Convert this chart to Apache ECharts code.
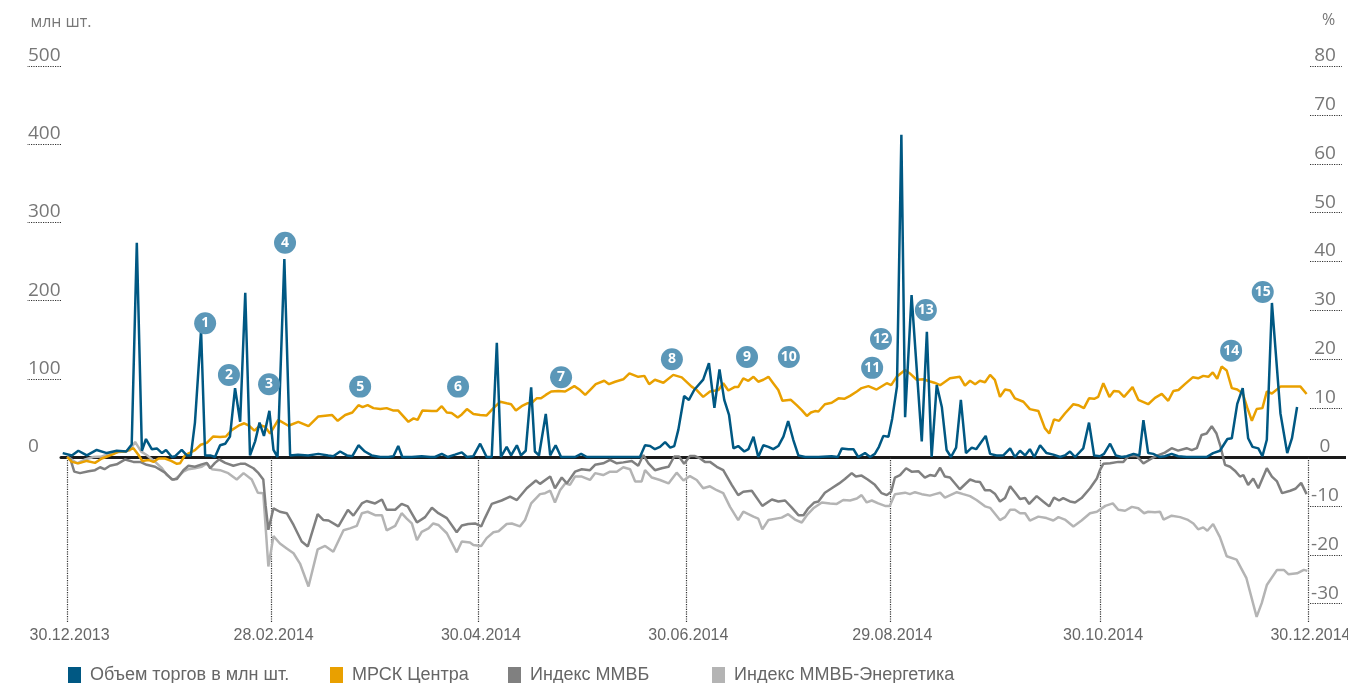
<!DOCTYPE html>
<html>
    <head>
        <meta charset="utf-8" />
        <script src="https://cdn.jsdelivr.net/npm/echarts@6.0.0/dist/echarts.min.js"></script>
        <style>
            html, body { margin: 0; padding: 0; background: #fff; overflow: hidden; }
        </style>
    </head>
    <body>
        <div id="main" style="width: 1348px; height: 683px"></div>
        <script type="text/javascript">
            // x = calendar days since 30.12.2013
            const xTicks = [0, 60, 121, 182, 242, 304, 365];
            const xTickLabels = ["30.12.2013", "28.02.2014", "30.04.2014", "30.06.2014", "29.08.2014", "30.10.2014", "30.12.2014"];
            const leftLabels = [0, 100, 200, 300, 400, 500];
            const rightLabels = [-30, -20, -10, 0, 10, 20, 30, 40, 50, 60, 70, 80];

            // trading volume, mln shares (left axis)
            const volume = [
                [-1.3, 5], [1.4, 2], [3.3, 8], [5.8, 2], [8.7, 9], [11.7, 5], [14.6, 8], [17.4, 7], [19.0, 16], [20.5, 274],
                [22.0, 8], [23.2, 23], [24.9, 10], [26.4, 11], [27.9, 5], [29.1, 9], [30.8, 0], [31.8, 1], [33.7, 9], [35.2, 2],
                [36.4, 2], [37.6, 44], [39.4, 162], [40.6, 2], [42.1, 2], [43.5, 0], [45.0, 15], [46.5, 17], [47.9, 26], [49.4, 88],
                [50.9, 45], [52.4, 210], [53.8, 2], [55.3, 20], [56.6, 44], [57.9, 27], [59.5, 59], [60.7, 9], [61.9, 0], [63.9, 253],
                [65.6, 2], [67.9, 3], [70.9, 2], [73.9, 4], [76.8, 2], [78.3, 1], [80.3, 7], [82.3, 2], [83.9, 1], [85.7, 15],
                [87.6, 7], [89.6, 2], [92.1, 0], [94.5, 0], [96.0, 1], [97.4, 14], [98.6, 0], [101.4, 0], [104.3, 1], [106.8, 0],
                [108.2, 0], [110.2, 4], [112.0, 0], [114.1, 3], [116.1, 6], [117.6, 0], [119.5, 1], [121.5, 17], [123.4, 0], [124.9, 0],
                [126.4, 146], [127.6, 0], [129.3, 13], [130.6, 2], [132.3, 15], [133.5, 2], [134.9, 8], [136.5, 89], [137.6, 7], [138.8, 2],
                [140.8, 55], [142.1, 2], [143.7, 15], [145.3, 0], [149.4, 0], [151.2, 4], [152.9, 0], [156.8, 0], [162.6, 0], [168.5, 0],
                [170.0, 15], [171.5, 14], [172.9, 10], [174.4, 13], [175.9, 19], [177.4, 12], [178.6, 14], [179.8, 35], [181.5, 78], [182.9, 73],
                [184.5, 86], [187.1, 99], [188.8, 120], [190.4, 63], [191.9, 112], [193.3, 73], [194.7, 54], [196.0, 11], [197.4, 14], [199.2, 7],
                [200.4, 10], [201.9, 26], [203.3, 0], [204.8, 15], [206.3, 13], [207.7, 10], [209.2, 14], [210.7, 26], [212.1, 46], [213.6, 22],
                [215.1, 2], [217.1, 0], [221.0, 0], [224.9, 1], [226.7, 0], [227.9, 11], [229.8, 10], [231.3, 10], [232.7, 0], [234.7, 5],
                [236.2, 0], [237.6, 4], [238.8, 13], [240.1, 27], [241.6, 26], [242.7, 49], [244.1, 90], [245.4, 412], [246.5, 51], [248.4, 207],
                [251.4, 20], [252.9, 160], [254.3, 0], [255.8, 92], [257.3, 64], [258.7, 9], [260.0, 0], [261.5, 12], [262.9, 73], [264.4, 5],
                [266.1, 12], [267.4, 10], [268.7, 18], [270.2, 27], [271.5, 4], [273.4, 2], [275.4, 2], [277.4, 11], [278.8, 0], [280.3, 8],
                [281.8, 2], [283.2, 10], [284.5, 0], [286.2, 15], [288.1, 5], [290.1, 3], [292.1, 0], [293.5, 2], [295.0, 7], [296.5, 0],
                [298.9, 11], [300.6, 44], [302.1, 2], [303.8, 1], [305.0, 4], [306.8, 17], [308.5, 2], [310.2, 0], [311.7, 1], [313.7, 4],
                [315.4, 2], [316.6, 47], [318.0, 5], [319.5, 4], [321.3, 0], [322.9, 1], [324.9, 4], [326.8, 1], [329.3, 0], [332.3, 0],
                [335.2, 0], [337.1, 5], [339.1, 8], [341.3, 23], [342.6, 24], [344.2, 68], [345.8, 88], [347.4, 24], [348.7, 13], [350.4, 11],
                [351.6, 1], [352.9, 22], [354.4, 197], [356.9, 56], [358.9, 5], [360.3, 24], [361.8, 64]
            ];

            // МРСК Центра, % change (right axis)
            const mrsk = [
                [0, 0], [1.4, -1], [3.3, -1.3], [5.8, -0.8], [8.2, -1.2], [10.2, -0.3], [12.1, 0.2], [13.6, 0.6], [15.1, 1.1], [17.1, 1.1],
                [19.5, 1.8], [21.0, 0.4], [22.1, -0.8], [23.9, -0.6], [25.4, -1], [26.9, -0.3], [28.8, -0.3], [30.6, -0.8], [32.3, -1.4], [33.2, -1.3],
                [34.7, 0.4], [36.2, 0.9], [37.6, 1.4], [39.3, 2.5], [41.1, 2.9], [43.0, 4.2], [45.0, 4.1], [46.7, 4.2], [48.4, 5.5], [50.4, 6.4],
                [52.1, 6.9], [53.5, 6.4], [55.1, 5.4], [56.8, 6.5], [58.2, 6.2], [59.7, 4.8], [62.1, 7.6], [65.1, 6.4], [68.0, 7.2], [71.0, 6.3],
                [73.9, 8.3], [77.9, 8.6], [79.6, 7.4], [81.8, 8.6], [83.9, 9.1], [85.7, 10.6], [86.9, 10.2], [88.4, 10.6], [90.1, 10], [92.1, 9.8],
                [94.0, 10], [96.0, 9.5], [97.4, 9.5], [100.4, 7.2], [101.9, 7.9], [103.1, 7.6], [104.5, 9.5], [107.3, 9.4], [108.7, 9.4], [110.2, 10.4],
                [111.7, 9.1], [113.1, 9], [114.9, 8.1], [116.1, 8.7], [117.6, 9.8], [119.5, 8.8], [121.5, 8.6], [123.4, 8.5], [125.4, 10], [127.4, 11.3],
                [129.3, 11], [130.6, 10.8], [132.0, 9.5], [133.7, 10.4], [135.5, 11], [136.7, 11.1], [138.1, 12], [139.4, 12], [140.8, 12.7], [142.4, 13.4],
                [144.5, 13.5], [146.5, 13.4], [149.2, 14.5], [150.9, 13.7], [152.4, 12.7], [153.8, 13.7], [155.5, 14.9], [158.0, 15.6], [159.4, 14.9], [161.2, 15.4],
                [163.6, 15.9], [165.4, 17.1], [168.0, 16.4], [169.8, 16.6], [171.2, 14.9], [172.9, 15.8], [175.4, 15.2], [178.3, 16.8], [180.8, 16.3], [183.7, 14.4],
                [185.2, 13.7], [187.1, 12.3], [189.1, 13.4], [191.6, 13.7], [193.0, 15.1], [194.5, 13.6], [196.3, 14.3], [197.4, 14.3], [198.9, 16.1], [200.4, 15.6],
                [201.9, 16.4], [203.3, 15.4], [204.8, 15.8], [206.3, 16.4], [207.7, 15.1], [209.2, 13.7], [210.4, 11.5], [212.9, 11.7], [214.6, 10.6], [216.1, 9.6],
                [217.6, 8.4], [218.8, 9.1], [220.0, 9.4], [221.0, 9.3], [222.9, 10.8], [224.9, 11.1], [226.9, 12], [228.6, 11.9], [230.3, 12.5], [232.3, 13.4],
                [233.7, 14.1], [235.7, 14.5], [238.1, 13.8], [241.1, 15.1], [242.4, 14.7], [244.0, 16.4], [246.5, 17.8], [247.9, 17.1], [249.9, 15.8], [251.9, 15.9],
                [253.6, 15.5], [255.1, 15.2], [256.8, 14.7], [259.7, 16.1], [262.6, 16.4], [264.1, 14.6], [265.6, 15.6], [267.1, 14.9], [268.5, 15.6], [270.0, 15.3],
                [271.5, 16.8], [272.9, 15.8], [274.4, 12.3], [275.9, 13.8], [277.4, 13.6], [278.8, 12], [281.3, 11.3], [283.2, 9.8], [285.7, 9.4], [287.6, 5.9],
                [288.9, 4.8], [290.3, 7.7], [291.8, 7.4], [293.5, 8.9], [296.0, 10.8], [297.4, 10.6], [299.1, 10], [300.6, 12], [302.1, 11.9], [303.3, 12.3],
                [304.8, 15.1], [306.6, 12.3], [307.9, 13.5], [309.4, 13.4], [310.9, 12.3], [313.4, 14.3], [315.1, 11.7], [318.0, 10.8], [320.0, 12.1], [322.0, 12.9],
                [323.9, 11.5], [325.4, 13.5], [326.9, 13.7], [328.8, 14.9], [331.1, 16.3], [332.7, 16.1], [334.2, 16.6], [335.7, 16.4], [337.0, 17.3], [338.3, 16],
                [339.6, 18.5], [341.1, 17.7], [342.6, 14.1], [344.2, 13.8], [345.8, 13], [347.2, 10], [348.5, 7.4], [349.9, 9.8], [351.6, 10], [352.9, 13.4],
                [354.4, 13], [356.9, 14.4], [359.8, 14.4], [362.8, 14.4], [364.6, 12.9]
            ];

            // Индекс ММВБ, % change (right axis)
            const micex = [
                [0, 0], [0.9, -0.3], [2.1, -3], [3.8, -3.3], [6.3, -2.9], [8.2, -2.7], [9.7, -2.1], [11.0, -2.5], [12.6, -1.8], [14.6, -1.5],
                [17.1, -0.5], [19.5, -1], [21.5, -1], [23.4, -1.6], [25.9, -2], [28.8, -3.2], [30.8, -4.6], [32.3, -4.5], [34.2, -2.7], [35.7, -1.8],
                [37.6, -2], [39.6, -1.5], [41.1, -1.2], [42.1, -2.3], [43.5, -1.2], [44.7, -0.5], [46.5, -1.2], [48.9, -1.8], [50.9, -1.4], [52.4, -1.4],
                [54.8, -2.3], [56.3, -3.3], [57.7, -4.6], [58.4, -10], [59.2, -14.9], [60.7, -10.5], [62.6, -11.2], [64.6, -11.5], [66.6, -13.9], [69.0, -17.3],
                [70.8, -18.3], [73.7, -11.7], [75.4, -12.9], [76.9, -13], [79.8, -14.2], [82.6, -10.8], [84.2, -12], [86.7, -9.5], [88.1, -9], [90.6, -9.5],
                [92.6, -8.7], [94.0, -10.8], [96.5, -10.8], [98.4, -9.6], [100.2, -10.1], [102.9, -13.4], [105.3, -12.3], [107.3, -10.4], [109.2, -11.5], [111.7, -12.5],
                [114.6, -15.4], [116.1, -14], [118.0, -13.7], [120.0, -13.6], [121.8, -14.2], [122.9, -12.5], [124.9, -9.6], [127.8, -8.9], [130.3, -8.1], [132.3, -8.8],
                [135.2, -6.4], [137.9, -4.8], [139.1, -5.5], [142.1, -4], [143.5, -6.4], [145.5, -4.2], [147.0, -5.4], [149.4, -3], [151.4, -2.5], [153.8, -2.7],
                [155.3, -1.6], [157.7, -1.3], [159.7, -0.6], [161.7, -1.3], [163.6, -1.1], [166.1, -0.8], [168.0, -1.8], [169.5, 0.4], [171.0, -1.3], [172.9, -2.7],
                [174.9, -2.3], [176.9, -2], [178.6, 0.1], [180.0, 0.1], [181.5, -1.4], [183.2, 0.2], [184.7, 0.2], [186.2, -0.3], [187.6, -1], [189.1, -1],
                [191.1, -2], [193.0, -2.7], [195.5, -5.7], [197.4, -7.8], [198.9, -7.1], [201.4, -6.9], [204.5, -10], [207.3, -8.7], [209.2, -9.1], [211.2, -8.9],
                [213.1, -10.3], [215.1, -11.9], [216.6, -11.9], [218.0, -10.5], [219.8, -9.3], [221.0, -9.1], [222.9, -7.3], [224.9, -6.4], [227.1, -5.4], [228.8, -4.5],
                [230.8, -3.3], [232.0, -4], [233.7, -3.8], [235.5, -4.6], [237.6, -5.7], [239.6, -7.4], [241.1, -7.8], [242.4, -7.1], [243.5, -4.2], [245.0, -3.7],
                [246.8, -2.3], [248.4, -3], [250.4, -2.9], [252.3, -4.2], [253.8, -3.7], [255.3, -3.9], [256.8, -2.2], [258.2, -4], [259.7, -4.2], [262.6, -6.6],
                [265.6, -4.6], [267.1, -5], [268.5, -5.1], [270.0, -6.8], [271.5, -6.8], [272.9, -7.5], [274.4, -9.1], [275.9, -8.4], [277.4, -6], [278.8, -7.2],
                [280.3, -8.6], [281.8, -8.4], [283.0, -9.6], [285.2, -8], [287.1, -9.1], [288.9, -10.1], [290.3, -8.3], [291.8, -8.9], [293.0, -8.4], [295.0, -9.1],
                [296.5, -9.3], [298.4, -8.4], [300.9, -6.4], [302.9, -4.4], [303.8, -2.7], [304.8, -1.4], [306.8, -1.3], [309.2, -1], [310.7, -1], [312.2, 0.2],
                [314.6, 0.2], [316.6, -1.3], [319.0, -0.3], [321.0, 0.4], [322.9, 0.9], [324.9, 1.8], [326.8, 1.3], [329.3, 1.8], [330.8, 1.4], [332.3, 1.8],
                [333.7, 4.5], [335.2, 4.8], [336.7, 6.3], [338.1, 4.8], [339.3, 2.1], [340.6, -1.6], [342.1, -2], [343.5, -2.8], [345.0, -4], [346.0, -3.7],
                [347.4, -5.7], [348.9, -4.4], [350.4, -6.4], [352.9, -2.3], [354.4, -4], [355.9, -5], [357.4, -7.4], [359.8, -6.9], [361.3, -6.5], [363.0, -5.3],
                [364.6, -7.6]
            ];

            // Индекс ММВБ-Энергетика, % change (right axis)
            const micexPower = [
                [0, 0], [0.9, -0.3], [2.9, -1.3], [5.3, -0.5], [7.7, 0], [10.2, 0.1], [12.1, 0.6], [14.1, 0.9], [16.6, 1.1], [18.5, 1.4],
                [20.0, 3.1], [21.8, 1.1], [23.4, 0.4], [25.9, -1], [27.9, -2.3], [29.3, -3.7], [31.3, -4.7], [32.7, -4], [34.2, -3], [35.7, -2.5],
                [37.6, -2.3], [39.6, -2], [41.1, -1.3], [42.6, -2.5], [45.0, -2.7], [47.4, -3.3], [49.9, -4.6], [51.9, -3.3], [54.3, -4.6], [56.1, -7.3],
                [57.7, -7.4], [59.2, -22.4], [60.7, -16.2], [62.6, -17.7], [64.6, -18.7], [66.6, -19.7], [68.5, -21.8], [71.0, -26.5], [73.7, -18.9], [75.9, -18.2],
                [78.3, -19.4], [81.3, -15], [83.2, -14.6], [85.2, -14.1], [86.7, -11.5], [88.4, -11.2], [90.6, -11.9], [92.6, -11.9], [94.0, -15], [96.5, -14.1],
                [98.4, -11.5], [99.9, -12.6], [101.4, -13.6], [102.9, -17], [104.3, -15.3], [106.3, -14.6], [107.7, -13.6], [109.2, -13.9], [111.7, -15.6], [114.6, -19.5],
                [116.1, -17.3], [118.5, -17.5], [119.5, -18], [121.8, -18.2], [123.4, -16.6], [125.4, -15.4], [126.9, -15.2], [129.3, -13.7], [130.8, -13.6], [133.2, -14.2],
                [134.7, -12.9], [136.5, -9.5], [139.1, -7.6], [140.6, -7.4], [142.1, -6.9], [143.5, -9.3], [145.0, -6.8], [146.5, -5.4], [147.9, -5.7], [149.4, -4],
                [151.4, -4], [153.8, -4.7], [155.3, -3.3], [157.7, -3.7], [159.7, -3], [161.7, -3], [163.6, -2.1], [165.6, -2.5], [167.1, -5], [169.0, -5],
                [170.0, -2.7], [172.0, -4.2], [174.4, -4.7], [176.9, -5.4], [179.3, -3.2], [181.3, -4.8], [183.2, -3.9], [185.2, -4.7], [187.1, -6.4], [189.1, -6],
                [191.1, -6.8], [193.0, -7.4], [195.0, -10.2], [197.4, -12.9], [198.9, -11.2], [201.9, -12.2], [203.3, -12.6], [204.5, -14.8], [206.3, -12.9], [210.2, -12.4],
                [212.1, -11.7], [214.1, -12.8], [216.1, -13.4], [217.6, -11.9], [219.5, -10.5], [222.0, -9.3], [224.4, -9.5], [226.4, -9.6], [228.3, -8.8], [230.3, -8.9],
                [232.3, -8.5], [233.7, -7.8], [235.2, -9.3], [236.7, -8.9], [238.6, -9.5], [240.6, -10], [242.0, -10], [243.5, -7.6], [246.5, -7.3], [247.9, -7.6],
                [249.4, -7.2], [251.4, -7.6], [253.8, -7.9], [255.3, -7.6], [256.8, -7.3], [258.2, -8.3], [261.7, -7.2], [263.6, -7.6], [265.6, -8], [267.5, -8.8],
                [270.0, -10.1], [271.5, -10.4], [274.4, -12.9], [275.9, -12.3], [277.4, -10.8], [278.8, -10.8], [280.3, -11.5], [281.8, -11.5], [283.2, -13], [285.7, -12.2],
                [288.1, -12.5], [290.1, -13], [291.6, -12.3], [293.5, -12.8], [296.0, -14.2], [298.4, -13], [300.9, -11.5], [302.9, -11.2], [305.4, -10], [307.6, -9.5],
                [309.2, -10.8], [311.2, -11], [313.2, -10.2], [315.1, -10.5], [316.8, -11.5], [318.0, -11.2], [320.0, -11.3], [321.5, -11.2], [322.5, -12.8], [324.9, -12],
                [327.4, -12.3], [329.5, -12.8], [331.3, -13.6], [332.7, -14.8], [334.2, -14.4], [335.4, -15.1], [337.1, -13.7], [339.1, -16.4], [341.1, -20.3], [344.0, -21],
                [346.9, -24.8], [349.9, -32.7], [351.4, -29.9], [352.9, -26.2], [355.9, -23.1], [357.9, -23.1], [359.3, -24], [361.8, -23.8], [363.8, -23.1], [364.8, -23.3]
            ];

            // numbered event markers: [day, volume level, number]
            const notes = [
                [40.6, 171, 1], [47.6, 105, 2], [59.4, 93, 3], [64.1, 274, 4], [86.2, 90, 5],
                [115.0, 90, 6], [145.3, 102, 7], [177.9, 125, 8], [200.0, 128, 9], [212.3, 128, 10],
                [236.8, 114, 11], [239.4, 151, 12], [252.6, 188, 13], [342.4, 136, 14], [351.7, 211, 15]
            ];

            const seriesNames = ["Объем торгов в млн шт.", "МРСК Центра", "Индекс ММВБ", "Индекс ММВБ-Энергетика"];
            const seriesColors = ["#005883", "#e9a000", "#808080", "#b4b4b4"];

            const narrow = "'Liberation Sans', 'Roboto', sans-serif";
            const regular = "'Open Sans', 'DejaVu Sans', sans-serif";

            const leftMax = 500, rightMax = 80;
            const zeroShare = 165 / 391; // part of the plot below zero vs above
            const leftMin = -leftMax * zeroShare;
            const rightMin = -rightMax * zeroShare;
            const xMin = -1.8, xMax = 365.6;

            var myChart = echarts.init(document.getElementById("main"), null, { width: 1348, height: 683 });

            const legendLefts = [68, 330, 508, 712];
            const legends = seriesNames.map((name, i) => ({
                data: [name],
                left: legendLefts[i],
                bottom: -1,
                padding: 0,
                icon: "rect",
                itemWidth: 13,
                itemHeight: 16,
                itemGap: 0,
                itemTextGap: 9,
                selectedMode: false,
                textStyle: { fontFamily: narrow, fontSize: 18, color: "#666", padding: [0, 0, 0, 4] },
            }));

            const yLabelStyle = {
                fontFamily: regular,
                fontSize: 19,
                color: "#777",
                verticalAlign: "bottom",
                padding: [0, 0, 1, 0],
            };

            myChart.setOption({
                animation: false,
                legend: legends,
                grid: { left: 61, right: 38, top: 66, bottom: 61, containLabel: false, outerBoundsMode: "none" },
                xAxis: [
                    {
                        type: "value",
                        min: xMin,
                        max: xMax,
                        position: "bottom",
                        axisLine: { show: false, onZero: false },
                        splitLine: { show: false },
                        axisTick: {
                            show: true,
                            inside: true,
                            length: 165,
                            customValues: xTicks,
                            lineStyle: { type: "dotted", color: "#333", width: 1.2 },
                        },
                        axisLabel: {
                            customValues: xTicks,
                            margin: 6,
                            padding: [0, 0, 0, 5],
                            fontFamily: narrow,
                            fontSize: 16,
                            color: "#666",
                            formatter: (v) => xTickLabels[xTicks.indexOf(v)] || "",
                        },
                    },
                    {
                        // the black zero line
                        type: "value",
                        min: xMin,
                        max: xMax,
                        position: "bottom",
                        axisLine: { show: true, onZero: true, onZeroAxisIndex: 0, lineStyle: { color: "#1a1a1a", width: 3 } },
                        axisTick: { show: false },
                        axisLabel: { show: false },
                        splitLine: { show: false },
                    },
                ],
                yAxis: [
                    {
                        type: "value",
                        position: "left",
                        min: leftMin,
                        max: leftMax,
                        name: "млн шт.",
                        nameLocation: "end",
                        nameGap: 44,
                        nameTextStyle: { fontFamily: regular, fontSize: 16, color: "#777", verticalAlign: "middle", align: "center" },
                        axisLine: { show: false, onZero: false },
                        splitLine: { show: false },
                        axisTick: {
                            show: true,
                            length: 34,
                            customValues: leftLabels.filter((v) => v !== 0),
                            lineStyle: { type: "dotted", color: "#333", width: 1.2 },
                        },
                        axisLabel: Object.assign({ customValues: leftLabels, align: "left", margin: 33 }, yLabelStyle),
                    },
                    {
                        type: "value",
                        position: "right",
                        min: rightMin,
                        max: rightMax,
                        name: "%",
                        nameLocation: "end",
                        nameGap: 46,
                        nameTextStyle: { fontFamily: regular, fontSize: 16, color: "#777", verticalAlign: "middle", align: "left", padding: [0, 0, 0, 12] },
                        axisLine: { show: false, onZero: false },
                        splitLine: { show: false },
                        axisTick: {
                            show: true,
                            length: 32,
                            customValues: rightLabels.filter((v) => v !== 0),
                            lineStyle: { type: "dotted", color: "#333", width: 1.2 },
                        },
                        axisLabel: Object.assign({ customValues: rightLabels, align: "center", margin: 15 }, yLabelStyle),
                    },
                    {
                        // continues the zero line under the right axis
                        type: "value",
                        position: "right",
                        min: rightMin,
                        max: rightMax,
                        axisLine: { show: false, onZero: false },
                        splitLine: { show: false },
                        axisLabel: { show: false },
                        axisTick: { show: true, length: 36, customValues: [0], lineStyle: { color: "#1a1a1a", width: 3 } },
                    },
                ],
                series: [
                    {
                        name: seriesNames[3],
                        type: "line",
                        yAxisIndex: 1,
                        data: micexPower,
                        symbol: "none",
                        color: seriesColors[3],
                        lineStyle: { width: 2.5 },
                    },
                    {
                        name: seriesNames[2],
                        type: "line",
                        yAxisIndex: 1,
                        data: micex,
                        symbol: "none",
                        color: seriesColors[2],
                        lineStyle: { width: 2.5 },
                    },
                    {
                        name: seriesNames[1],
                        type: "line",
                        yAxisIndex: 1,
                        data: mrsk,
                        symbol: "none",
                        color: seriesColors[1],
                        lineStyle: { width: 2.5 },
                    },
                    {
                        name: seriesNames[0],
                        type: "line",
                        yAxisIndex: 0,
                        data: volume,
                        symbol: "none",
                        color: seriesColors[0],
                        lineStyle: { width: 2.5 },
                    },
                    {
                        name: "notes",
                        type: "scatter",
                        yAxisIndex: 0,
                        data: notes,
                        symbolSize: 22,
                        z: 5,
                        itemStyle: { color: "#5b97b8", opacity: 1 },
                        label: {
                            show: true,
                            position: "inside",
                            formatter: (p) => String(p.value[2]),
                            color: "#fff",
                            fontFamily: regular,
                            fontWeight: "bold",
                            fontSize: 14,
                        },
                    },
                ],
            });
        </script>
    </body>
</html>
